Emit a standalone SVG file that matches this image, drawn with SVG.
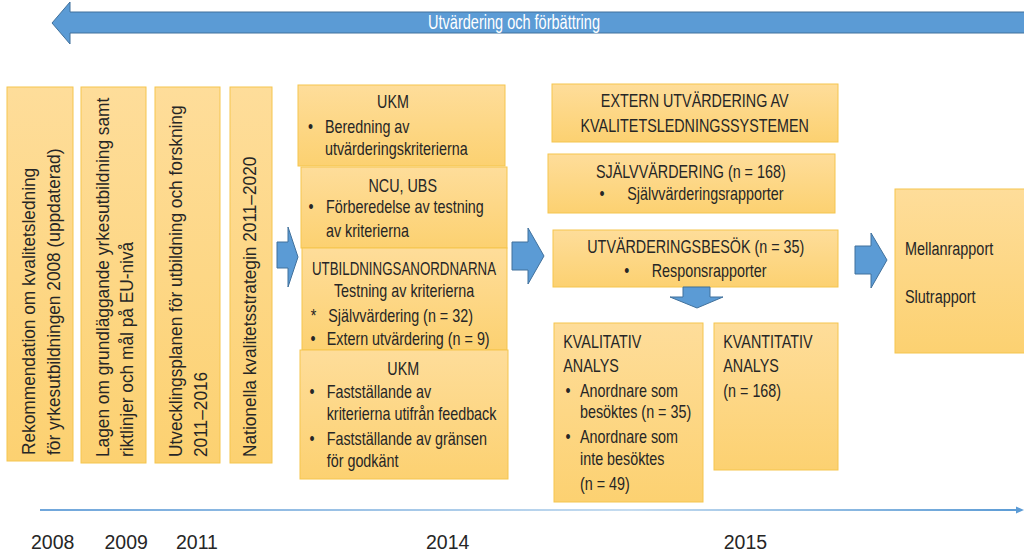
<svg xmlns="http://www.w3.org/2000/svg" width="1024" height="551" viewBox="0 0 1024 551">
  <defs>
    <linearGradient id="boxFill" x1="0" y1="0" x2="0" y2="1">
      <stop offset="0" stop-color="#FEDD9A"/>
      <stop offset="1" stop-color="#FCD171"/>
    </linearGradient>
    <linearGradient id="timeFill" gradientUnits="userSpaceOnUse" x1="40" y1="0" x2="1022" y2="0">
      <stop offset="0" stop-color="#6FA6DB"/>
      <stop offset="0.6" stop-color="#C5DCF0"/>
      <stop offset="1" stop-color="#5B9BD5"/>
    </linearGradient>
    <style>
      .box { fill: url(#boxFill); stroke: #F5C54E; stroke-width: 1; }
      .t { font-family: "Liberation Sans", Arial, Helvetica, sans-serif; font-size: 18.5px; fill: #262626; }
      .c { text-anchor: middle; }
      .v { font-size: 19px; }
      .yr { font-family: "Liberation Sans", Arial, Helvetica, sans-serif; font-size: 19.5px; fill: #262626; }
      .blk { fill: #5B9BD5; stroke: #41719C; stroke-width: 1; }
    </style>
  </defs>

  <rect width="1024" height="551" fill="#FFFFFF"/>

  <!-- feedback banner across the top -->
  <g id="banner">
    <path class="blk" d="M52,23 L70,2 L70,12 L1030,12 L1030,33 L70,33 L70,44 Z"/>
    <text class="t c" style="fill:#FFFFFF;font-size:19.5px" transform="translate(514,29) scale(.745,1)">Utvärdering och förbättring</text>
  </g>

  <!-- background documents (vertical labels) -->
  <g id="doc-2008">
    <rect class="box" x="7" y="87" width="66" height="374"/>
    <text class="t v" transform="translate(35,455) rotate(-90) scale(.91,1)">Rekommendation om kvalitetsledning</text>
    <text class="t v" transform="translate(60,455) rotate(-90) scale(.91,1)">för yrkesutbildningen 2008 (uppdaterad)</text>
  </g>
  <g id="doc-2009">
    <rect class="box" x="81" y="87" width="65" height="376"/>
    <text class="t v" transform="translate(108.5,457) rotate(-90) scale(.91,1)">Lagen om grundläggande yrkesutbildning samt</text>
    <text class="t v" transform="translate(133,457) rotate(-90) scale(.91,1)">riktlinjer och mål på EU-nivå</text>
  </g>
  <g id="doc-2011a">
    <rect class="box" x="155" y="87" width="65" height="376"/>
    <text class="t v" transform="translate(181.5,457) rotate(-90) scale(.91,1)">Utvecklingsplanen för utbildning och forskning</text>
    <text class="t v" transform="translate(207,457) rotate(-90) scale(.91,1)">2011–2016</text>
  </g>
  <g id="doc-2011b">
    <rect class="box" x="230" y="87" width="42" height="376"/>
    <text class="t v" transform="translate(256,457) rotate(-90) scale(.91,1)">Nationella kvalitetsstrategin 2011–2020</text>
  </g>

  <!-- 2014: criteria work -->
  <g id="ukm-beredning">
    <rect class="box" x="298" y="85" width="207" height="81"/>
    <text class="t c" transform="translate(393,108) scale(.775,1)">UKM</text>
    <text class="t c" transform="translate(310.5,133) scale(.775,1)">•</text>
    <text class="t" transform="translate(325,133) scale(.775,1)">Beredning av</text>
    <text class="t" transform="translate(325,155) scale(.775,1)">utvärderingskriterierna</text>
  </g>
  <g id="ncu-ubs">
    <rect class="box" x="301" y="167" width="206" height="81"/>
    <text class="t c" transform="translate(402.7,191.7) scale(.775,1)">NCU, UBS</text>
    <text class="t c" transform="translate(311,213.3) scale(.775,1)">•</text>
    <text class="t" transform="translate(326,213.3) scale(.775,1)">Förberedelse av testning</text>
    <text class="t" transform="translate(326,236.7) scale(.775,1)">av kriterierna</text>
  </g>
  <g id="anordnarna">
    <rect class="box" x="302" y="248" width="205" height="102"/>
    <text class="t c" transform="translate(404,275) scale(.72,1)">UTBILDNINGSANORDNARNA</text>
    <text class="t c" transform="translate(404,296.7) scale(.775,1)">Testning av kriterierna</text>
    <text class="t c" transform="translate(313.5,321.7) scale(.775,1)">*</text>
    <text class="t" transform="translate(328.3,321.7) scale(.775,1)">Självvärdering (n = 32)</text>
    <text class="t c" transform="translate(313,345) scale(.775,1)">•</text>
    <text class="t" transform="translate(326.7,345) scale(.775,1)">Extern utvärdering (n = 9)</text>
  </g>
  <g id="ukm-faststallande">
    <rect class="box" x="300" y="350" width="208" height="129"/>
    <text class="t c" transform="translate(403.3,375) scale(.775,1)">UKM</text>
    <text class="t c" transform="translate(312,398.3) scale(.775,1)">•</text>
    <text class="t" transform="translate(326.7,398.3) scale(.775,1)">Fastställande av</text>
    <text class="t" transform="translate(326.7,420) scale(.775,1)">kriterierna utifrån feedback</text>
    <text class="t c" transform="translate(312,445) scale(.775,1)">•</text>
    <text class="t" transform="translate(326.7,445) scale(.775,1)">Fastställande av gränsen</text>
    <text class="t" transform="translate(326.7,466.7) scale(.775,1)">för godkänt</text>
  </g>

  <!-- 2015: external evaluation -->
  <g id="extern">
    <rect class="box" x="552" y="84" width="286" height="58"/>
    <text class="t c" transform="translate(694.7,107.3) scale(.775,1)">EXTERN UTVÄRDERING AV</text>
    <text class="t c" transform="translate(694.7,132.3) scale(.775,1)">KVALITETSLEDNINGSSYSTEMEN</text>
  </g>
  <g id="sjalvvardering">
    <rect class="box" x="548" y="154" width="287" height="59"/>
    <text class="t c" transform="translate(690.8,178.3) scale(.775,1)">SJÄLVVÄRDERING (n = 168)</text>
    <text class="t c" transform="translate(602,200) scale(.775,1)">•</text>
    <text class="t" transform="translate(627.3,200) scale(.775,1)">Självvärderingsrapporter</text>
  </g>
  <g id="besok">
    <rect class="box" x="553" y="230" width="285" height="57"/>
    <text class="t c" transform="translate(695.8,253.3) scale(.775,1)">UTVÄRDERINGSBESÖK (n = 35)</text>
    <text class="t c" transform="translate(626.7,276.7) scale(.775,1)">•</text>
    <text class="t" transform="translate(651.7,276.7) scale(.775,1)">Responsrapporter</text>
  </g>
  <g id="kvalitativ">
    <rect class="box" x="554" y="323" width="149" height="179"/>
    <text class="t" transform="translate(563.3,348.3) scale(.775,1)">KVALITATIV</text>
    <text class="t" transform="translate(563.3,371.7) scale(.775,1)">ANALYS</text>
    <text class="t c" transform="translate(568,396.7) scale(.775,1)">•</text>
    <text class="t" transform="translate(580,396.7) scale(.775,1)">Anordnare som</text>
    <text class="t" transform="translate(580,418.3) scale(.775,1)">besöktes (n = 35)</text>
    <text class="t c" transform="translate(568,443.3) scale(.775,1)">•</text>
    <text class="t" transform="translate(580,443.3) scale(.775,1)">Anordnare som</text>
    <text class="t" transform="translate(580,465) scale(.775,1)">inte besöktes</text>
    <text class="t" transform="translate(580,490) scale(.775,1)">(n = 49)</text>
  </g>
  <g id="kvantitativ">
    <rect class="box" x="714" y="323" width="124" height="147"/>
    <text class="t" transform="translate(723.3,348.3) scale(.775,1)">KVANTITATIV</text>
    <text class="t" transform="translate(723.3,371.7) scale(.775,1)">ANALYS</text>
    <text class="t" transform="translate(723.3,396.7) scale(.775,1)">(n = 168)</text>
  </g>

  <!-- reports -->
  <g id="rapporter">
    <rect class="box" x="895" y="189" width="140" height="164"/>
    <text class="t" style="font-size:19px" transform="translate(905,255) scale(.76,1)">Mellanrapport</text>
    <text class="t" style="font-size:19px" transform="translate(905,302.7) scale(.76,1)">Slutrapport</text>
  </g>

  <!-- flow arrows between stages -->
  <g id="connectors">
    <path class="blk" d="M277,242 H288 V227 L298,257 L288,287 V268 H277 Z"/>
    <path class="blk" d="M512,242 H528 V228 L544,256 L528,284 V270 H512 Z"/>
    <path class="blk" d="M683,287 H710 V297 H723 L697,308 L670,297 H683 Z"/>
    <path class="blk" d="M855,246 H871 V233 L887,260 L871,288 V274 H855 Z"/>
  </g>

  <!-- time axis -->
  <g id="timeline">
    <line x1="40" y1="510" x2="1018" y2="510" stroke="url(#timeFill)" stroke-width="2"/>
    <polygon points="1016,506.5 1024,510 1016,513.5" fill="#5B9BD5"/>
    <text class="yr" x="31" y="549">2008</text>
    <text class="yr" x="104.5" y="549">2009</text>
    <text class="yr" x="176" y="549">2011</text>
    <text class="yr" x="426" y="549">2014</text>
    <text class="yr" x="723.7" y="549">2015</text>
  </g>
</svg>
